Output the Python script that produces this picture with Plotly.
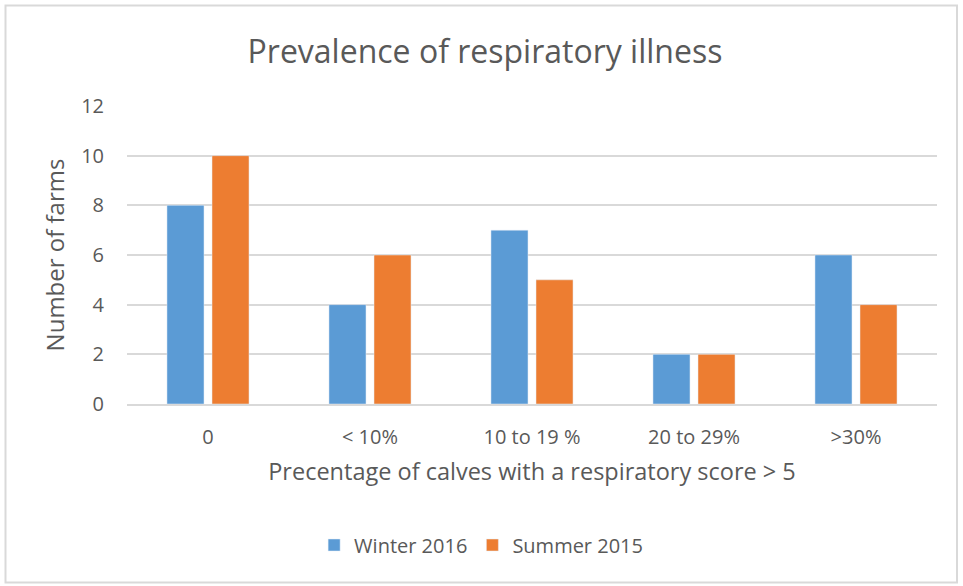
import plotly.graph_objects as go

categories = ["0", "< 10%", "10 to 19 %", "20 to 29%", ">30%"]
winter_2016 = [8, 4, 7, 2, 6]
summer_2015 = [10, 6, 5, 2, 4]
y_ticks = [0, 2, 4, 6, 8, 10, 12]

FONT = "Open Sans"
GRAY = "#595959"
GRID = "#D9D9D9"

W, H = 963, 586
L, R, T, B = 127, 26, 106, 182
PW, PH = W - L - R, H - T - B

fig = go.Figure()
fig.add_trace(go.Bar(name="Winter 2016", x=categories, y=winter_2016, marker_color="#5B9BD5"))
fig.add_trace(go.Bar(name="Summer 2015", x=categories, y=summer_2015, marker_color="#ED7D31"))

fig.update_layout(
    width=W, height=H,
    paper_bgcolor="white", plot_bgcolor="white",
    margin=dict(l=L, r=R, t=T, b=B),
    barmode="group", bargap=0.444, bargroupgap=0.178,
    font=dict(family=FONT, color=GRAY),
    title=dict(text="Prevalence of respiratory illness", x=485 / W, xanchor="center",
               y=1 - 52 / H, yref="container", yanchor="middle",
               font=dict(family=FONT, size=32, color=GRAY)),
    xaxis=dict(showgrid=False, showline=True, linecolor=GRID, linewidth=1.5,
               tickfont=dict(size=20, color=GRAY), ticks="", ticklabelstandoff=14,
               title=dict(text="Precentage of calves with a respiratory score > 5",
                          font=dict(size=23.5, color=GRAY), standoff=15)),
    yaxis=dict(range=[0, 12], tickvals=y_ticks, showgrid=True, gridcolor=GRID,
               gridwidth=1.5, zeroline=False, ticks="", tickfont=dict(size=20, color=GRAY),
               ticklabelstandoff=22,
               title=dict(text="Number of farms", font=dict(size=24, color=GRAY), standoff=9)),
    legend=dict(orientation="h", x=421 / W, xanchor="center", y=1 - 545 / H, yref="container",
                yanchor="middle", font=dict(size=20, color=GRAY), traceorder="normal",
                itemwidth=30),
    showlegend=True,
)
fig.add_shape(type="rect", xref="paper", yref="paper",
              x0=(5.5 - L) / PW, x1=(957 - L) / PW,
              y0=(H - B - 582.5) / PH, y1=(H - B - 5.5) / PH,
              line=dict(color=GRID, width=2), layer="below")

fig.write_html("out.html", config={"displayModeBar": False},
               post_script="document.body.style.margin='0';")
